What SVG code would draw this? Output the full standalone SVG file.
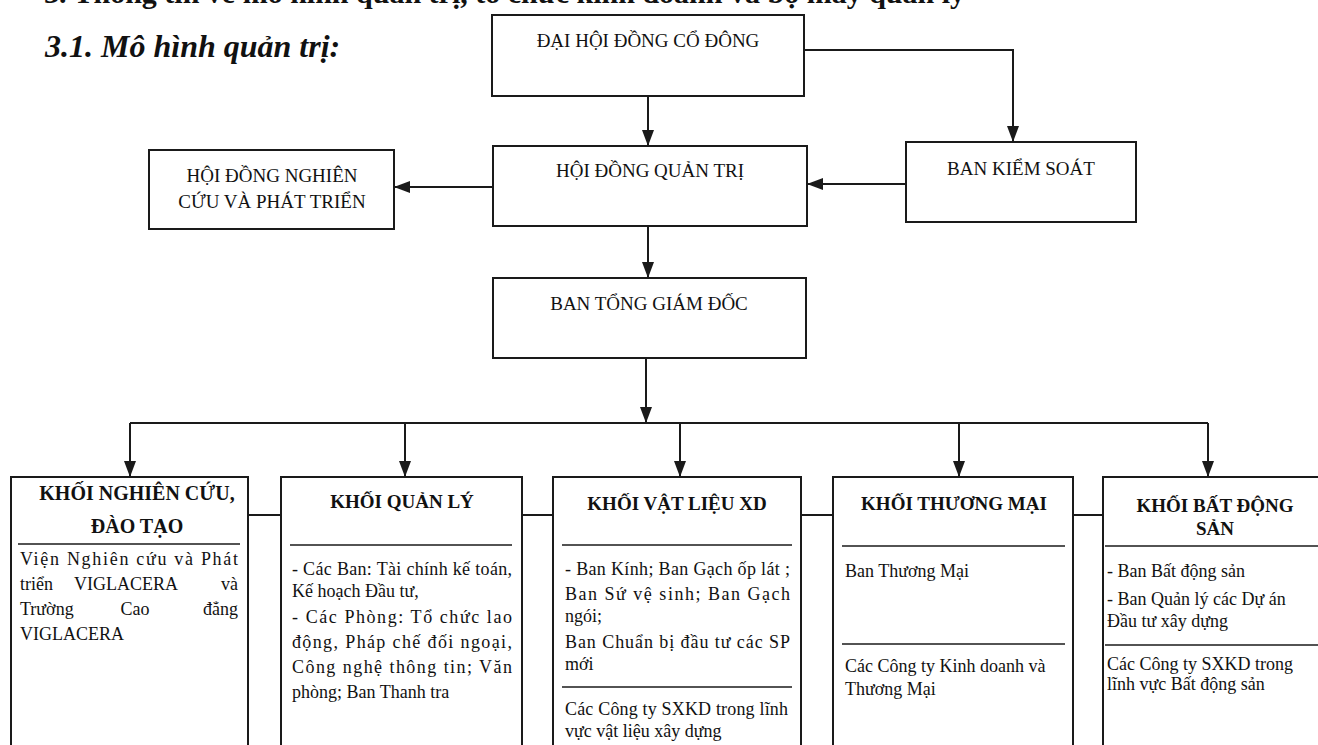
<svg xmlns="http://www.w3.org/2000/svg" width="1318" height="745" viewBox="0 0 1318 745">
<style>
.box{fill:#fff;stroke:#1a1a1a;stroke-width:2}
.ln{stroke:#1a1a1a;stroke-width:2;fill:none}
.dv{stroke:#1a1a1a;stroke-width:1.6}
.t{font-family:"Liberation Serif","Times New Roman",serif;font-size:18px;fill:#111}
.n{font-size:19px}
.h{font-weight:bold;font-size:19px}
.c{text-anchor:middle}
.e{text-anchor:end}
</style>
<defs>
<marker id="ar" viewBox="0 0 16 12" refX="16" refY="6" markerWidth="16" markerHeight="12" markerUnits="userSpaceOnUse" orient="auto">
<path d="M0,0 L16,6 L0,12 z" fill="#1a1a1a"/>
</marker>
</defs>
<rect width="1318" height="745" fill="#fff"/>
<g id="heading">
<text class="t h" x="44" y="3" style="font-size:30px">3. Thông tin về mô hình quản trị, tổ chức kinh doanh và bộ máy quản lý</text>
<text class="t h" x="45" y="57" style="font-size:32px;font-style:italic">3.1. Mô hình quản trị:</text>
</g>
<g id="connectors">
<path class="ln" d="M648,96 V146" marker-end="url(#ar)"/>
<path class="ln" d="M804,50 H1013 V142" marker-end="url(#ar)"/>
<path class="ln" d="M906,184 H807" marker-end="url(#ar)"/>
<path class="ln" d="M493,187 H394" marker-end="url(#ar)"/>
<path class="ln" d="M648,226 V278" marker-end="url(#ar)"/>
<path class="ln" d="M646,358 V423" marker-end="url(#ar)"/>
<path class="ln" d="M130,423 H1208"/>
<path class="ln" d="M130,423 V477" marker-end="url(#ar)"/>
<path class="ln" d="M405,423 V477" marker-end="url(#ar)"/>
<path class="ln" d="M680,423 V477" marker-end="url(#ar)"/>
<path class="ln" d="M959,423 V477" marker-end="url(#ar)"/>
<path class="ln" d="M1208,423 V477" marker-end="url(#ar)"/>
<path class="ln" d="M248,515 H281"/>
<path class="ln" d="M522,515 H553"/>
<path class="ln" d="M801,515 H833"/>
<path class="ln" d="M1073,515 H1103"/>
</g>
<g id="dhdcd">
<rect class="box" x="492" y="15" width="312" height="81"/>
<text class="t n c" x="648" y="47">ĐẠI HỘI ĐỒNG CỔ ĐÔNG</text>
</g>
<g id="hdqt">
<rect class="box" x="493" y="146" width="314" height="80"/>
<text class="t n c" x="650" y="177">HỘI ĐỒNG QUẢN TRỊ</text>
</g>
<g id="hdnc">
<rect class="box" x="149" y="150" width="245" height="79"/>
<text class="t n c" x="272" y="182">HỘI ĐỒNG NGHIÊN</text>
<text class="t n c" x="272" y="208">CỨU VÀ PHÁT TRIỂN</text>
</g>
<g id="bks">
<rect class="box" x="906" y="142" width="230" height="80"/>
<text class="t n c" x="1021" y="175">BAN KIỂM SOÁT</text>
</g>
<g id="btgd">
<rect class="box" x="493" y="278" width="313" height="80"/>
<text class="t n c" x="649" y="310">BAN TỔNG GIÁM ĐỐC</text>
</g>
<g id="khoi-nghien-cuu">
<rect class="box" x="11" y="477" width="237" height="290"/>
<text class="t h c" x="137" y="500" style="font-size:20px">KHỐI NGHIÊN CỨU,</text>
<text class="t h c" x="137" y="533" style="font-size:20px">ĐÀO TẠO</text>
<line class="dv" x1="18" y1="544" x2="240" y2="544"/>
<text class="t" x="20" y="565" textLength="218" lengthAdjust="spacing">Viện Nghiên cứu và Phát</text>
<text class="t" x="20" y="590">triển</text>
<text class="t c" x="126" y="590">VIGLACERA</text>
<text class="t e" x="238" y="590">và</text>
<text class="t" x="20" y="615">Trường</text>
<text class="t c" x="135" y="615">Cao</text>
<text class="t e" x="238" y="615">đẳng</text>
<text class="t" x="20" y="640">VIGLACERA</text>
</g>
<g id="khoi-quan-ly">
<rect class="box" x="281" y="477" width="241" height="290"/>
<text class="t h c" x="402" y="508">KHỐI QUẢN LÝ</text>
<line class="dv" x1="290" y1="545" x2="512" y2="545"/>
<text class="t" x="292" y="575" textLength="220" lengthAdjust="spacing">- Các Ban: Tài chính kế toán,</text>
<text class="t" x="292" y="597">Kế hoạch Đầu tư,</text>
<text class="t" x="292" y="623" textLength="220" lengthAdjust="spacing">- Các Phòng: Tổ chức lao</text>
<text class="t" x="292" y="648" textLength="220" lengthAdjust="spacing">động, Pháp chế đối ngoại,</text>
<text class="t" x="292" y="673" textLength="220" lengthAdjust="spacing">Công nghệ thông tin; Văn</text>
<text class="t" x="292" y="698">phòng; Ban Thanh tra</text>
</g>
<g id="khoi-vat-lieu">
<rect class="box" x="553" y="477" width="248" height="290"/>
<text class="t h c" x="677" y="510">KHỐI VẬT LIỆU XD</text>
<line class="dv" x1="562" y1="545" x2="792" y2="545"/>
<text class="t" x="565" y="575" textLength="225" lengthAdjust="spacing">- Ban Kính; Ban Gạch ốp lát ;</text>
<text class="t" x="565" y="600" textLength="225" lengthAdjust="spacing">Ban Sứ vệ sinh; Ban Gạch</text>
<text class="t" x="565" y="622">ngói;</text>
<text class="t" x="565" y="648" textLength="225" lengthAdjust="spacing">Ban Chuẩn bị đầu tư các SP</text>
<text class="t" x="565" y="670">mới</text>
<line class="dv" x1="562" y1="687" x2="792" y2="687"/>
<text class="t" x="565" y="715" textLength="223" lengthAdjust="spacing">Các Công ty SXKD trong lĩnh</text>
<text class="t" x="565" y="737">vực vật liệu xây dựng</text>
</g>
<g id="khoi-thuong-mai">
<rect class="box" x="833" y="477" width="240" height="290"/>
<text class="t h c" x="954" y="510">KHỐI THƯƠNG MẠI</text>
<line class="dv" x1="842" y1="546" x2="1065" y2="546"/>
<text class="t" x="845" y="577">Ban Thương Mại</text>
<line class="dv" x1="842" y1="644" x2="1065" y2="644"/>
<text class="t" x="845" y="672">Các Công ty Kinh doanh và</text>
<text class="t" x="845" y="695">Thương Mại</text>
</g>
<g id="khoi-bat-dong-san">
<rect class="box" x="1103" y="477" width="225" height="290"/>
<text class="t h c" x="1215" y="512">KHỐI BẤT ĐỘNG</text>
<text class="t h c" x="1215" y="535">SẢN</text>
<line class="dv" x1="1105" y1="546" x2="1318" y2="546"/>
<text class="t" x="1107" y="577">- Ban Bất động sản</text>
<text class="t" x="1107" y="605">- Ban Quản lý các Dự án</text>
<text class="t" x="1107" y="627">Đầu tư xây dựng</text>
<line class="dv" x1="1105" y1="645" x2="1318" y2="645"/>
<text class="t" x="1107" y="670">Các Công ty SXKD trong</text>
<text class="t" x="1107" y="690">lĩnh vực Bất động sản</text>
</g>
</svg>
